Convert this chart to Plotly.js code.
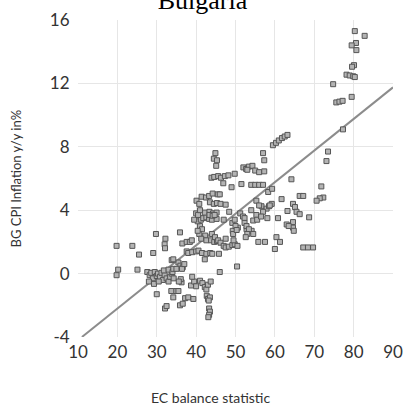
<!DOCTYPE html>
<html><head><meta charset="utf-8">
<script src="https://cdn.plot.ly/plotly-3.0.1.min.js"></script>
<style>html,body{margin:0;padding:0;background:#fff}#chart{width:405px;height:405px}</style>
</head><body><div id="chart"></div>
<script>
const balanceX = [
19.8,23.8,25.5,29.1,29.8,32.2,32.0,32.1,35.9,36.5,37.6,38.4,38.9,
20.2,19.8,25.1,
27.6,28.2,28.6,29.0,29.5,30.0,30.3,30.8,31.2,31.6,32.0,32.5,33.0,33.4,33.8,34.3,28.0,29.3,30.5,31.8,33.0,34.0,34.2,
30.0,32.1,32.5,34.2,34.9,35.5,33.7,35.9,36.6,37.2,38.0,39.3,36.3,36.1,35.6,38.7,39.5,39.0,40.0,
41.0,41.6,42.2,42.6,43.0,43.7,42.7,43.0,43.5,43.2,43.3,43.5,43.3,43.1,
46.0,50.4,
35.5,36.0,36.6,36.4,37.0,33.8,34.2,35.0,
37.6,38.0,39.0,40.0,40.6,41.5,42.6,43.6,44.1,45.8,42.2,
41.0,41.5,40.8,42.3,41.3,42.6,43.8,44.6,45.3,40.4,44.0,44.8,45.6,46.2,47.5,
47.0,47.5,48.3,49.2,49.8,50.5,49.5,
49.3,50.6,52.8,54.1,55.8,57.5,49.4,
40.4,41.2,41.8,42.6,43.3,44.0,45.2,42.2,43.4,44.3,45.2,47.0,48.4,39.5,40.0,40.5,43.4,44.2,44.7,
40.1,40.8,41.0,41.4,42.5,43.3,44.2,45.5,46.0,43.5,44.5,45.3,46.2,47.5,
43.9,44.6,45.6,46.3,47.3,48.2,49.8,46.9,49.0,51.5,
44.9,44.5,45.3,45.1,
52.0,52.7,53.4,54.3,55.0,56.0,57.3,53.0,
57.0,57.3,
54.0,55.0,56.0,57.0,58.3,59.3,
59.5,60.3,61.0,61.8,62.5,63.2,
77.3,73.5,73.1,64.2,71.8,66.3,67.2,72.3,71.4,70.6,61.7,59.2,
64.6,65.1,63.2,65.5,66.3,68.7,60.8,
63.0,64.6,64.6,64.8,63.5,
60.4,61.3,60.0,67.2,68.4,69.7,
51.2,51.9,52.3,52.3,52.8,53.4,54.5,49.2,50.0,50.3,49.8,53.0,52.6,55.3,56.6,57.9,58.5,58.1,55.3,54.5,54.0,56.0,57.0,55.5,56.5,58.7,
80.3,82.8,80.6,79.5,80.7,80.1,79.6,78.2,79.0,79.9,80.3,74.8,75.6,76.4,77.2,79.5
];
const inflationY = [
1.75,1.75,1.2,1.3,2.5,2.2,1.85,1.6,2.6,1.9,2.0,2.0,2.1,
0.25,-0.1,0.25,
0.1,-0.1,0.05,-0.3,0.1,-0.15,0.0,-0.2,0.05,-0.4,-0.1,-0.3,-0.5,-0.2,0.0,-0.3,-0.5,-0.65,-0.5,0.2,0.25,0.1,0.3,
-1.3,-2.2,-2.05,-1.5,-1.1,-1.1,-1.1,-2.0,-1.9,-1.55,-1.5,-1.6,-0.55,-0.35,-0.5,-0.75,-0.5,-0.2,-0.8,
-0.45,-0.6,-0.85,-1.0,-0.7,-0.5,-1.4,-1.6,-1.5,-1.7,-2.2,-2.4,-2.6,-2.75,
0.1,0.45,
0.7,0.5,0.4,0.3,0.6,0.85,0.9,0.3,
1.4,1.3,1.35,1.4,1.45,1.3,1.25,1.3,1.25,1.25,0.9,
3.0,2.8,2.5,2.4,2.2,2.1,2.1,2.0,2.05,2.7,2.5,2.3,2.1,1.95,2.2,
1.75,1.65,1.7,1.8,1.85,1.75,2.1,
2.7,2.9,2.8,2.7,2.0,2.0,2.5,
3.3,3.4,3.5,3.55,3.45,3.4,3.45,3.85,3.9,3.8,3.85,3.4,3.9,3.4,3.8,3.7,3.7,3.65,3.7,
4.6,4.4,4.0,4.85,4.8,4.9,5.05,5.0,5.0,4.5,4.4,4.45,4.4,4.35,
6.05,6.1,6.15,6.05,6.15,6.2,6.3,5.7,5.45,5.65,
7.6,7.25,7.15,6.8,
6.7,6.6,6.75,6.8,6.5,6.4,6.45,6.55,
7.6,7.15,
5.6,5.6,5.6,5.6,5.15,5.35,
8.1,8.25,8.4,8.55,8.65,8.75,
9.1,7.7,7.1,5.95,5.5,4.9,4.9,4.8,4.75,4.6,4.7,4.4,
4.4,4.2,3.95,3.9,3.75,3.55,3.5,
3.1,3.25,2.9,2.7,3.0,
2.3,2.0,1.55,1.65,1.65,1.65,
3.8,3.6,3.5,3.2,3.0,2.8,2.5,3.2,3.0,2.75,3.4,2.5,2.3,4.6,4.25,4.1,4.25,3.5,3.7,3.35,4.0,4.3,3.9,3.4,3.6,4.3,
15.3,15.0,14.55,14.4,14.1,13.15,13.05,12.55,12.5,12.45,12.4,11.95,10.8,10.85,10.9,11.15
];
const trendX = [11, 90];
const trendY = [-4.0, 11.75];
const xTicks = [10,20,30,40,50,60,70,80,90];
const yTicks = [-4,0,4,8,12,16];
const chartTitle = 'Bulgaria';
const xTitle = 'EC balance statistic';
const yTitle = 'BG CPI Inflation y/y in%';

const tickFont = {family:'Lato, "Open Sans", sans-serif', size:17, color:'#333'};
const data = [
  {x: trendX, y: trendY, type:'scatter', mode:'lines', line:{color:'#8c8c8c', width:2}, hoverinfo:'skip', showlegend:false},
  {x: balanceX, y: inflationY, type:'scatter', mode:'markers',
   marker:{symbol:'square', size:5, color:'#b4b4b4', line:{color:'#555', width:1}}, showlegend:false}
];
const layout = {
  width:405, height:405,
  margin:{l:78, r:12, t:20, b:68},
  paper_bgcolor:'#fff', plot_bgcolor:'#fff',
  title:{text:chartTitle, font:{family:'Liberation Serif, serif', size:26, color:'#000'}, x:0.5, xref:'container', y:1.0, yref:'container', yanchor:'middle'},
  xaxis:{range:[10,90], tickvals:xTicks, ticktext:xTicks.map(String), tickfont:tickFont, showgrid:true, gridcolor:'#e6e6e6', gridwidth:1, zeroline:false, showline:true, linecolor:'#fff', linewidth:1, ticks:'', fixedrange:true},
  yaxis:{range:[-4,16], tickvals:yTicks, ticktext:yTicks.map(String), tickfont:tickFont, showgrid:true, gridcolor:'#e6e6e6', gridwidth:1, zeroline:false, showline:true, linecolor:'#fff', linewidth:1, ticks:'', ticklabelstandoff:4, fixedrange:true},
  annotations:[
    {text:xTitle, xref:'paper', yref:'paper', x:(210-78)/315, y:-(397-337)/317, xanchor:'center', yanchor:'middle', showarrow:false, font:{family:'Lato, "Open Sans", sans-serif', size:14, color:'#333'}},
    {text:yTitle, xref:'paper', yref:'paper', x:-(78-15)/315, y:0.5, xanchor:'center', yanchor:'middle', textangle:-90, showarrow:false, font:{family:'Lato, "Open Sans", sans-serif', size:13, color:'#333'}}
  ]
};
Plotly.newPlot('chart', data, layout, {displayModeBar:false, staticPlot:true});
</script></body></html>
